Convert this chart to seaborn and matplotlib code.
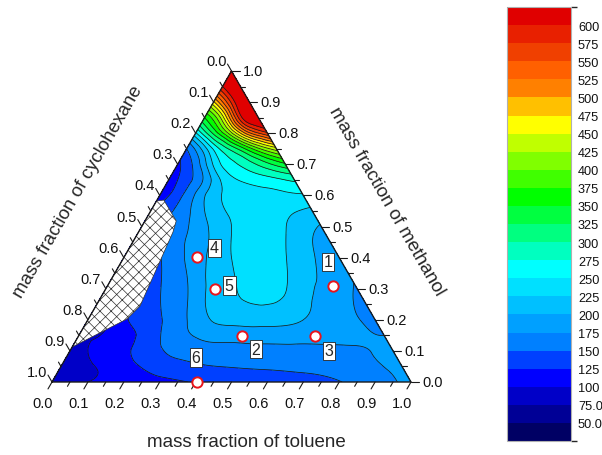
import numpy as np
import matplotlib
matplotlib.use("Agg")
import matplotlib.pyplot as plt
import matplotlib.tri as mtri
import seaborn as sns
from matplotlib.colors import ListedColormap, BoundaryNorm
from matplotlib.patches import Polygon
from matplotlib.cm import ScalarMappable

sns.set_theme(style="white")
plt.rcParams["font.family"] = ["Liberation Sans", "DejaVu Sans"]
plt.rcParams["hatch.linewidth"] = 0.5

# ---- field values, one row per methanol fraction ----
# each row runs from toluene = 0 (left edge) to toluene = 1 - methanol (right edge)
meth_rows = [0.0, 0.05, 0.1, 0.15, 0.2, 0.3, 0.4, 0.5, 0.6, 0.65,
             0.7, 0.75, 0.8, 0.85, 0.9, 0.95, 1.0]
row_000 = [82, 100, 110, 118, 127, 133, 137, 142, 149, 163, 185]
row_005 = [86, 100, 118, 138, 147, 151, 153, 155, 159, 170, 182]
row_010 = [88, 100, 110, 120, 135, 148, 157, 162, 165, 166, 167, 167, 168, 168,
           169, 171, 173, 176, 180]
row_015 = [92, 105, 128, 160, 180, 185, 187, 186, 182, 178, 175]
row_020 = [95, 100, 120, 135, 148, 165, 185, 202, 207, 209, 209, 207, 200, 190,
           182, 176, 170]
row_030 = [98, 110, 132, 149, 165, 185, 210, 222, 232, 233, 226, 208, 197, 185, 172]
row_040 = [100, 118, 148, 168, 188, 207, 225, 238, 238, 226, 210, 195, 185]
row_050 = [105, 145, 165, 183, 207, 225, 238, 240, 226, 210, 198]
row_060 = [110, 140, 178, 215, 232, 238, 242, 245, 247]
row_065 = [110, 140, 180, 230, 252, 262, 270, 280]
row_070 = [120, 160, 228, 268, 290, 318, 345]
row_075 = [150, 215, 285, 335, 395, 440]
row_080 = [245, 330, 420, 520, 570]
row_085 = [350, 440, 590, 640]
row_090 = [470, 580, 660]
row_095 = [600, 670]
row_100 = [690]
field_rows = [row_000, row_005, row_010, row_015, row_020, row_030, row_040,
              row_050, row_060, row_065, row_070, row_075, row_080, row_085,
              row_090, row_095, row_100]

# hatched (no data) region, ternary coordinates
hatch_tol = [0.0, 0.019, 0.087, 0.096, 0.123, 0.108, 0.0]
hatch_meth = [0.582, 0.585, 0.518, 0.482, 0.244, 0.203, 0.1125]

# sample points and their labels
pt_names = ["1", "2", "3", "4", "5", "6"]
pt_tol = [0.627, 0.454, 0.658, 0.2025, 0.3045, 0.403]
pt_meth = [0.310, 0.149, 0.149, 0.401, 0.299, 0.0]
lab_tol = [0.576, 0.515, 0.722, 0.236, 0.339, 0.361]
lab_meth = [0.386, 0.106, 0.0997, 0.431, 0.309, 0.080]

levels = np.arange(25, 626, 25)
band_colors = ["#000064", "#000096", "#0000C8", "#0000FF", "#0040FF", "#0080FF",
               "#00A0FF", "#00C0FF", "#00E0FF", "#00FFFF", "#00FFC0", "#00FF80",
               "#00FF40", "#00FF00", "#40FF00", "#80FF00", "#C0FF00", "#FFFF00",
               "#FFC000", "#FF8000", "#FF6000", "#F04000", "#E82000", "#E00000"]

H = np.sqrt(3) / 2
PX = 1 / 359.0


def to_xy(t, m):
    t = np.asarray(t, dtype=float)
    m = np.asarray(m, dtype=float)
    return t + m / 2, m * H


# nodes, row by row
T, M, V, row_idx = [], [], [], []
for m, row in zip(meth_rows, field_rows):
    ts = np.linspace(0, 1 - m, len(row)) if len(row) > 1 else np.array([0.0])
    row_idx.append(list(range(len(T), len(T) + len(row))))
    T.extend(ts)
    M.extend([m] * len(row))
    V.extend(row)
x, y = to_xy(T, M)

# stitch neighbouring rows together (Delaunay drops collinear edge nodes)
triangles = []
for A, B in zip(row_idx[:-1], row_idx[1:]):
    i = j = 0
    while i < len(A) - 1 or j < len(B) - 1:
        if j == len(B) - 1 or (i < len(A) - 1 and x[A[i + 1]] <= x[B[j + 1]]):
            tr = [A[i], A[i + 1], B[j]]
            i += 1
        else:
            tr = [A[i], B[j + 1], B[j]]
            j += 1
        area = ((x[tr[1]] - x[tr[0]]) * (y[tr[2]] - y[tr[0]])
                - (x[tr[2]] - x[tr[0]]) * (y[tr[1]] - y[tr[0]]))
        if area < 0:
            tr = [tr[0], tr[2], tr[1]]
        triangles.append(tr)

tri = mtri.Triangulation(x, y, triangles=np.array(triangles))
refiner = mtri.UniformTriRefiner(tri)
tri_f, v_f = refiner.refine_field(np.array(V, dtype=float), subdiv=4)

cmap = ListedColormap(band_colors)
cmap.set_over(band_colors[-1])
cmap.set_under(band_colors[0])
norm = BoundaryNorm(levels, cmap.N)

fig = plt.figure(figsize=(6.02, 4.56), dpi=100)
ax = fig.add_axes([52 / 602, (456 - 383) / 456, 359 / 602, 311.0 / 456])
ax.set_xlim(0, 1)
ax.set_ylim(0, H)
ax.axis("off")

ax.tricontourf(tri_f, v_f, levels=levels, cmap=cmap, norm=norm, extend="both")
ax.tricontour(tri_f, v_f, levels=levels[1:-1], colors="k", linewidths=0.55)

hx, hy = to_xy(hatch_tol, hatch_meth)
ax.add_patch(Polygon(np.column_stack([hx, hy]), closed=True, facecolor="white",
                     edgecolor="#303030", hatch="xxx", linewidth=0.5, zorder=3))

# triangle frame
fx, fy = to_xy([0, 1, 0, 0], [0, 0, 1, 0])
ax.plot(fx, fy, color="k", lw=1.0, clip_on=False, zorder=5)

# ticks
L_major = 8 * PX
L_minor = 5 * PX
fs_tick = 10.5
for i in range(21):
    v = i / 20
    major = i % 2 == 0
    L = L_major if major else L_minor
    # bottom: toluene
    px_, py_ = to_xy(v, 0)
    ax.plot([px_, px_ - 0.5 * L], [py_, py_ - H * L], color="k", lw=0.8, clip_on=False)
    if major:
        ax.text(px_ - 9 * PX, py_ - 21 * PX, f"{v:.1f}", ha="center", va="center",
                fontsize=fs_tick, color="#111111")
    # right: methanol
    px_, py_ = to_xy(1 - v, v)
    ax.plot([px_, px_ + L], [py_, py_], color="k", lw=0.8, clip_on=False)
    if major:
        ax.text(px_ + L + 3 * PX, py_, f"{v:.1f}", ha="left", va="center",
                fontsize=fs_tick, color="#111111")
    # left: cyclohexane
    px_, py_ = to_xy(0, 1 - v)
    ax.plot([px_, px_ - 0.5 * L], [py_, py_ + H * L], color="k", lw=0.8, clip_on=False)
    if major:
        ax.text(px_ - 0.5 * L - 1 * PX, py_ + H * L + 3 * PX, f"{v:.1f}", ha="right",
                va="center", fontsize=fs_tick, color="#111111")

fs_lab = 13.5
ax.text((246.5 - 52) * PX, (383 - 442) * PX, "mass fraction of toluene",
        ha="center", va="center", fontsize=fs_lab, clip_on=False)
ax.text((78 - 52) * PX, (383 - 192) * PX, "mass fraction of cyclohexane",
        ha="center", va="center", rotation=60, fontsize=fs_lab, clip_on=False)
ax.text((387 - 52) * PX, (383 - 202) * PX, "mass fraction of methanol",
        ha="center", va="center", rotation=-60, fontsize=fs_lab, clip_on=False)

# sample points
sx, sy = to_xy(pt_tol, pt_meth)
ax.scatter(sx, sy, s=55, facecolor="white", edgecolor="#E8141B", linewidth=1.4,
           zorder=6, clip_on=False)
lx, ly = to_xy(lab_tol, lab_meth)
for name, a, b in zip(pt_names, lx, ly):
    ax.text(a, b, name, ha="center", va="center", fontsize=11.5, zorder=7,
            bbox=dict(boxstyle="square,pad=0.12", fc="white", ec="#222222", lw=0.6))

# colour scale
cax = fig.add_axes([507 / 602, (456 - 442) / 456, 64 / 602, 434 / 456])
sm = ScalarMappable(norm=norm, cmap=cmap)
cb = fig.colorbar(sm, cax=cax, ticks=levels[1:-1], drawedges=False)
cb.ax.set_yticklabels([f"{v:.1f}" if v < 100 else f"{v:d}" for v in levels[1:-1]])
cb.ax.tick_params(length=0, pad=5, labelsize=9.2, colors="#111111")
cb.outline.set_edgecolor("#B0B0B0")
cb.outline.set_linewidth(0.8)

fig.savefig("out.png", dpi=100)
